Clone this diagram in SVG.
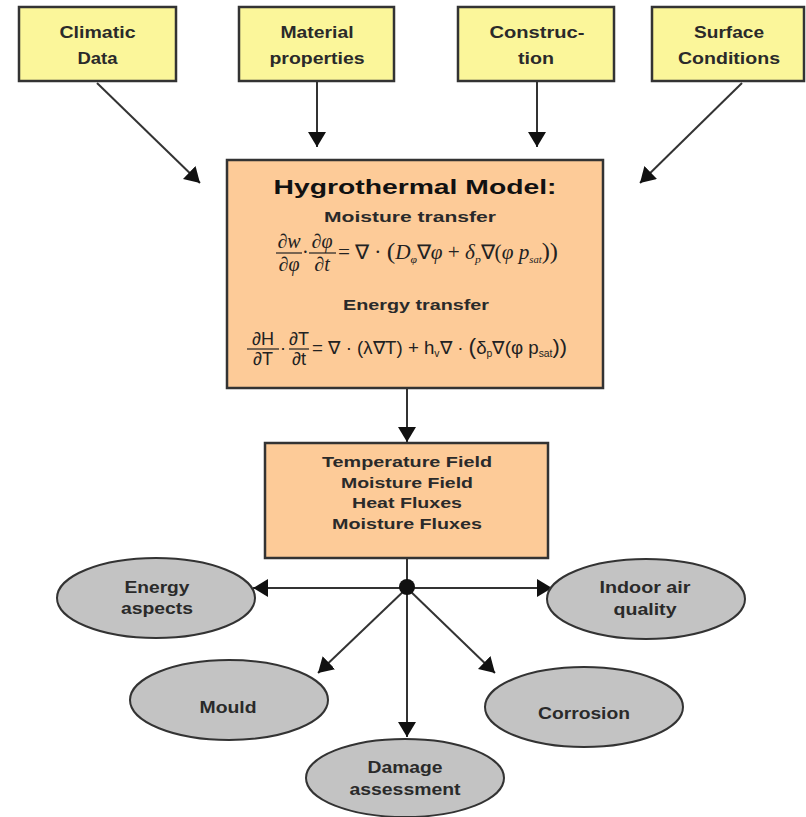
<svg xmlns="http://www.w3.org/2000/svg" width="806" height="817" viewBox="0 0 806 817">
<style>
.box{stroke:#333;stroke-width:2.5}
.in{fill:#FBF69A}
.mod{fill:#FDCB98}
.ell{fill:#C3C3C3;stroke:#333;stroke-width:2}
.lbl{font-family:"Liberation Sans",Arial,sans-serif;font-weight:bold;font-size:16px;fill:#2a2a2a;text-anchor:middle}
.res{font-size:15px}
.title{font-size:21px;fill:#111}
.sub{font-size:15px}
.eqs{font-family:"Liberation Serif","Times New Roman",serif;font-size:20px;fill:#222}
.eqa{font-family:"Liberation Sans",Arial,sans-serif;font-size:18px;fill:#222}
.c{text-anchor:middle}
.con{stroke:#333;stroke-width:2;fill:none}
.bar{stroke:#222;stroke-width:1.2}
</style>
<defs>
<marker id="ah" markerUnits="userSpaceOnUse" markerWidth="16" markerHeight="18" refX="15" refY="9" orient="auto">
<path d="M0,0 L15,9 L0,18 z" fill="#111"/>
</marker>
</defs>
<g id="connectors">
<line class="con" x1="97" y1="83" x2="200" y2="183" marker-end="url(#ah)"/>
<line class="con" x1="317" y1="82" x2="317" y2="147" marker-end="url(#ah)"/>
<line class="con" x1="537" y1="82" x2="537" y2="147" marker-end="url(#ah)"/>
<line class="con" x1="742" y1="83" x2="640" y2="183" marker-end="url(#ah)"/>
<line class="con" x1="407" y1="388" x2="407" y2="442" marker-end="url(#ah)"/>
<line class="con" x1="407" y1="558" x2="407" y2="588"/>
<line class="con" x1="407" y1="588" x2="253" y2="588" marker-end="url(#ah)"/>
<line class="con" x1="407" y1="588" x2="552" y2="588" marker-end="url(#ah)"/>
<line class="con" x1="407" y1="588" x2="318" y2="673" marker-end="url(#ah)"/>
<line class="con" x1="407" y1="588" x2="495" y2="673" marker-end="url(#ah)"/>
<line class="con" x1="407" y1="588" x2="407" y2="737" marker-end="url(#ah)"/>
<circle cx="407" cy="587" r="8" fill="#111"/>
</g>
<g id="climatic">
<rect class="box in" x="19" y="7" width="157" height="74"/>
<text class="lbl" x="97.5" y="38" textLength="76" lengthAdjust="spacingAndGlyphs">Climatic</text>
<text class="lbl" x="97.5" y="64" textLength="40" lengthAdjust="spacingAndGlyphs">Data</text>
</g>
<g id="material">
<rect class="box in" x="239" y="7" width="155" height="74"/>
<text class="lbl" x="317" y="38" textLength="73" lengthAdjust="spacingAndGlyphs">Material</text>
<text class="lbl" x="317" y="64" textLength="95" lengthAdjust="spacingAndGlyphs">properties</text>
</g>
<g id="construction">
<rect class="box in" x="458" y="7" width="156" height="74"/>
<text class="lbl" x="537" y="38" textLength="95" lengthAdjust="spacingAndGlyphs">Construc-</text>
<text class="lbl" x="536" y="64" textLength="36" lengthAdjust="spacingAndGlyphs">tion</text>
</g>
<g id="surface">
<rect class="box in" x="652" y="7" width="152" height="74"/>
<text class="lbl" x="729" y="38" textLength="70" lengthAdjust="spacingAndGlyphs">Surface</text>
<text class="lbl" x="729" y="64" textLength="102" lengthAdjust="spacingAndGlyphs">Conditions</text>
</g>
<g id="model">
<rect class="box mod" x="227" y="160" width="376" height="228"/>
<text class="lbl title" x="415" y="194" textLength="283" lengthAdjust="spacingAndGlyphs">Hygrothermal Model:</text>
<text class="lbl sub" x="410" y="222" textLength="172" lengthAdjust="spacingAndGlyphs">Moisture transfer</text>
<g class="eqs">
<text class="c" x="289" y="248"><tspan font-style="italic">∂w</tspan></text>
<line class="bar" x1="276" y1="253" x2="302" y2="253"/>
<text class="c" x="289" y="271"><tspan font-style="italic">∂φ</tspan></text>
<text x="302" y="259">·</text>
<text class="c" x="322" y="248"><tspan font-style="italic">∂φ</tspan></text>
<line class="bar" x1="309" y1="253" x2="336" y2="253"/>
<text class="c" x="322" y="271"><tspan font-style="italic">∂t</tspan></text>
<text x="338" y="259" textLength="220" lengthAdjust="spacingAndGlyphs">= ∇ · <tspan font-size="24">(</tspan><tspan font-style="italic">D</tspan><tspan font-style="italic" font-size="11" dy="4">φ</tspan><tspan dy="-4">∇</tspan><tspan font-style="italic">φ</tspan> + <tspan font-style="italic">δ</tspan><tspan font-style="italic" font-size="11" dy="4">p</tspan><tspan dy="-4">∇(</tspan><tspan font-style="italic">φ  p</tspan><tspan font-style="italic" font-size="10" dy="4">sat</tspan><tspan dy="-4" font-size="23">))</tspan></text>
</g>
<text class="lbl sub" x="416" y="310" textLength="146" lengthAdjust="spacingAndGlyphs">Energy transfer</text>
<g class="eqa">
<text class="c" x="263" y="345">∂H</text>
<line class="bar" x1="247" y1="349" x2="279" y2="349"/>
<text class="c" x="263" y="365">∂T</text>
<text x="280" y="354">·</text>
<text class="c" x="299" y="345">∂T</text>
<line class="bar" x1="289" y1="349" x2="309" y2="349"/>
<text class="c" x="299" y="365">∂t</text>
<text x="312" y="354" textLength="255" lengthAdjust="spacingAndGlyphs">= ∇ · (λ∇T) + h<tspan font-size="10" dy="3">v</tspan><tspan dy="-3">∇ · </tspan><tspan font-size="22">(</tspan>δ<tspan font-size="10" dy="3">p</tspan><tspan dy="-3">∇(φ p</tspan><tspan font-size="10" dy="3">sat</tspan><tspan dy="-3" font-size="21">))</tspan></text>
</g>
</g>
<g id="results">
<rect class="box mod" x="265" y="443" width="283" height="115"/>
<text class="lbl res" x="407" y="467" textLength="170" lengthAdjust="spacingAndGlyphs">Temperature Field</text>
<text class="lbl res" x="407" y="488" textLength="132" lengthAdjust="spacingAndGlyphs">Moisture Field</text>
<text class="lbl res" x="407" y="508" textLength="110" lengthAdjust="spacingAndGlyphs">Heat Fluxes</text>
<text class="lbl res" x="407" y="529" textLength="150" lengthAdjust="spacingAndGlyphs">Moisture Fluxes</text>
</g>
<g id="energy">
<ellipse class="ell" cx="156" cy="598" rx="99" ry="40"/>
<text class="lbl" x="157" y="593" textLength="65" lengthAdjust="spacingAndGlyphs">Energy</text>
<text class="lbl" x="157" y="614" textLength="72" lengthAdjust="spacingAndGlyphs">aspects</text>
</g>
<g id="indoor">
<ellipse class="ell" cx="646" cy="599" rx="99" ry="40"/>
<text class="lbl" x="645" y="593" textLength="91" lengthAdjust="spacingAndGlyphs">Indoor air</text>
<text class="lbl" x="645" y="615" textLength="63" lengthAdjust="spacingAndGlyphs">quality</text>
</g>
<g id="mould">
<ellipse class="ell" cx="229" cy="700" rx="99" ry="40"/>
<text class="lbl" x="228" y="713" textLength="57" lengthAdjust="spacingAndGlyphs">Mould</text>
</g>
<g id="corrosion">
<ellipse class="ell" cx="584" cy="707" rx="99" ry="40"/>
<text class="lbl" x="584" y="719" textLength="92" lengthAdjust="spacingAndGlyphs">Corrosion</text>
</g>
<g id="damage">
<ellipse class="ell" cx="405" cy="778" rx="99" ry="39"/>
<text class="lbl" x="405" y="773" textLength="75" lengthAdjust="spacingAndGlyphs">Damage</text>
<text class="lbl" x="405" y="795" textLength="111" lengthAdjust="spacingAndGlyphs">assessment</text>
</g>
</svg>
